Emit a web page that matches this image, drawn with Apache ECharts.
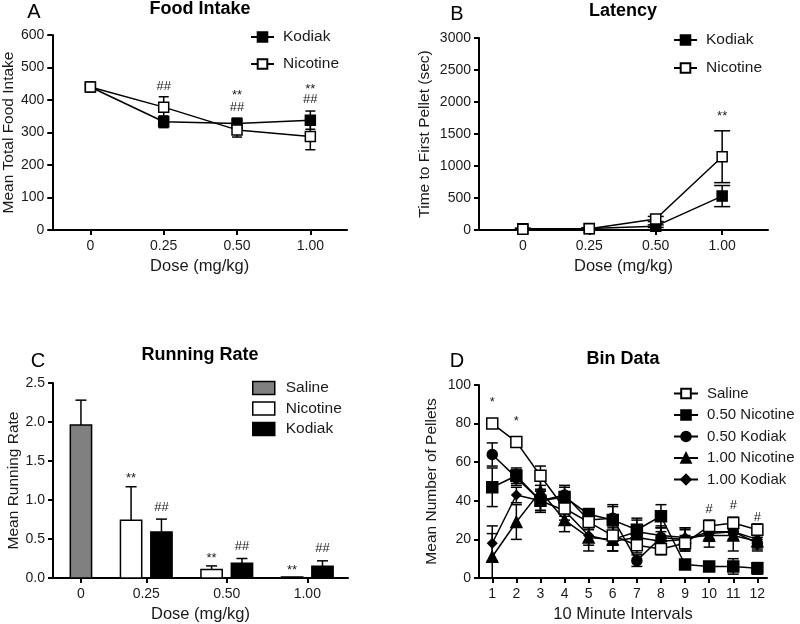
<!DOCTYPE html>
<html>
<head>
<meta charset="utf-8">
<script src="https://cdn.jsdelivr.net/npm/echarts@6/dist/echarts.min.js"></script>
<style>
  html, body { margin: 0; padding: 0; background: #fff; }
  #main { width: 800px; height: 624px; }
</style>
</head>
<body>
<div id="main"></div>
<script>
// ---- data ----
const doseLabels = ['0', '0.25', '0.50', '1.00']

// A: food intake
const foodKodiak = [440, 333, 328, 338]
const foodKodiakErr = [10, 18, 16, 28]
const foodNicotine = [440, 378, 308, 288]
const foodNicotineErr = [12, 32, 22, 41]
const annotA = [[1, 443, '##'], [2, 413, '**'], [2, 377, '##'], [3, 433, '**'], [3, 402, '##']]

// B: latency
const latKodiak = [20, 25, 60, 530]
const latKodiakErr = [10, 10, 20, 165]
const latNicotine = [10, 20, 172, 1145]
const latNicotineErr = [5, 10, 40, 405]
const annotB = [[3, 1780, '**']]

// C: running rate
const runSaline = [1.96, null, null, null]
const runSalineErr = [0.32, null, null, null]
const runNicotine = [null, 0.74, 0.11, 0.013]
const runNicotineErr = [null, 0.43, 0.045, 0]
const runKodiak = [null, 0.59, 0.19, 0.15]
const runKodiakErr = [null, 0.165, 0.06, 0.07]
const annotC = [['Nicotine', 1, 1.28, '**'], ['Kodiak', 1, 0.9, '##'], ['Nicotine', 2, 0.25, '**'],
  ['Kodiak', 2, 0.4, '##'], ['Nicotine', 3, 0.1, '**'], ['Kodiak', 3, 0.38, '##']]

// D: bin data
const intervals = ['1', '2', '3', '4', '5', '6', '7', '8', '9', '10', '11', '12']
const binSaline = [80, 70.5, 53, 36, 29, 22, 17, 15, 18, 27, 28.5, 25]
const binSalineErr = [2, 1, 5, 4, 4, 5, 4, 3, 4, 3, 3, 3]
const binNic50 = [47, 53, 40, 42, 33, 30, 25, 32, 7, 6, 6, 5]
const binNic50Err = [10, 4, 5, 5, 3, 7, 6, 6, 2, 2, 4, 3]
const binKod50 = [64, 52, 40, 43, 30, 31, 9, 21, 20, 24, 24, 18]
const binKod50Err = [6, 4, 5, 5, 4, 7, 3, 5, 6, 4, 4, 3]
const binNic100 = [11, 29, 45, 30, 21, 20, 24, 22, 21, 22, 22, 19]
const binNic100Err = [12, 9, 6, 6, 7, 6, 6, 5, 5, 6, 8, 5]
const binKod100 = [18, 43, 40, 35, 22, 19, 21, 19, 20, 23, 24, 20]
const binKod100Err = [9, 4, 6, 5, 5, 5, 5, 5, 5, 4, 4, 4]
const annotD = [[1, 90.8, '*'], [2, 81, '*'], [10, 35.7, '#'], [11, 37.4, '#'], [12, 31.4, '#']]

// ---- helpers ----
const FONT = '"Liberation Sans", Arial, Helvetica, sans-serif'
const INK = '#1a1a1a'

function pts(xs, ys, es) {
  return ys.map((y, i) => [xs[i], y, es ? es[i] : 0]).filter(p => p[1] != null)
}

function xAxisOf(grid, min, max, ticks, labels, name, gap) {
  return {
    type: 'value', gridIndex: grid, min: min, max: max,
    axisLine: { onZero: false, lineStyle: { color: '#000', width: 2 } },
    splitLine: { show: false },
    axisTick: { customValues: ticks, length: 5, lineStyle: { color: '#000', width: 2 } },
    axisLabel: {
      customValues: ticks, margin: 9, fontSize: 14, color: INK, fontFamily: FONT,
      formatter: v => labels[ticks.findIndex(t => Math.abs(t - v) < 1e-6)]
    },
    name: name, nameLocation: 'middle', nameGap: gap,
    nameTextStyle: { fontSize: 16.5, color: INK, fontFamily: FONT }
  }
}

function yAxisOf(grid, max, interval, name, gap, fmt) {
  return {
    type: 'value', gridIndex: grid, min: 0, max: max, interval: interval,
    axisLine: { show: true, onZero: false, lineStyle: { color: '#000', width: 2 } },
    splitLine: { show: false },
    axisTick: { show: true, length: 5, lineStyle: { color: '#000', width: 2 } },
    axisLabel: { margin: 8, fontSize: 14, color: INK, fontFamily: FONT, formatter: fmt || (v => String(v)) },
    name: name, nameLocation: 'middle', nameGap: gap,
    nameTextStyle: { fontSize: 15.5, color: INK, fontFamily: FONT }
  }
}

function errorBars(ax, data, cap) {
  return {
    type: 'custom', xAxisIndex: ax, yAxisIndex: ax, z: 1, silent: true, data: data,
    renderItem(params, api) {
      const x = api.value(0), y = api.value(1), e = api.value(2)
      if (!e) return
      const top = api.coord([x, y + e])
      const bot = api.coord([x, Math.max(0, y - e)])
      const st = { stroke: '#000', lineWidth: 1.5 }
      return {
        type: 'group', children: [
          { type: 'line', shape: { x1: top[0], y1: top[1], x2: bot[0], y2: bot[1] }, style: st },
          { type: 'line', shape: { x1: top[0] - cap / 2, y1: top[1], x2: top[0] + cap / 2, y2: top[1] }, style: st },
          { type: 'line', shape: { x1: bot[0] - cap / 2, y1: bot[1], x2: bot[0] + cap / 2, y2: bot[1] }, style: st }
        ]
      }
    }
  }
}

function lineOf(ax, name, data, symbol, size, fill, z) {
  return {
    type: 'line', name: name, xAxisIndex: ax, yAxisIndex: ax, data: data.map(p => [p[0], p[1]]),
    symbol: symbol, symbolSize: size, showSymbol: true, z: z || 2,
    lineStyle: { color: '#000', width: 1.5 },
    itemStyle: { color: fill, borderColor: '#000', borderWidth: 1.5 },
    emphasis: { disabled: true }
  }
}

function marks(ax, items) {
  return {
    type: 'custom', xAxisIndex: ax, yAxisIndex: ax, z: 5, silent: true,
    data: items.map(a => [a[0], a[1]]),
    renderItem(params, api) {
      const p = api.coord([api.value(0), api.value(1)])
      return {
        type: 'text', x: p[0], y: p[1],
        style: {
          text: items[params.dataIndex][2], fontSize: 13, fontFamily: FONT, fill: INK,
          align: 'center', verticalAlign: 'middle', textAlign: 'center', textVerticalAlign: 'middle'
        }
      }
    }
  }
}

// panel C layout: bars one step apart inside a dose group, wider step between groups
const barStep = 1, groupStep = 1.65, barW = 0.7
const runSets = [['Saline', runSaline, runSalineErr], ['Nicotine', runNicotine, runNicotineErr], ['Kodiak', runKodiak, runKodiakErr]]
const barPos = { Saline: [], Nicotine: [], Kodiak: [] }
const groupCenter = []
let cursor = 0
let lastBar = 0
doseLabels.forEach((d, g) => {
  const xs = []
  runSets.forEach(s => {
    if (s[1][g] != null) { barPos[s[0]][g] = cursor; xs.push(cursor); lastBar = cursor; cursor += barStep }
  })
  groupCenter.push((xs[0] + xs[xs.length - 1]) / 2)
  cursor += groupStep - barStep
})

function barsOf(name, vals, errs, fill) {
  const data = vals.map((v, g) => [barPos[name][g], v, errs[g] || 0]).filter(p => p[1] != null)
  return {
    type: 'custom', name: 'C:' + name, xAxisIndex: 2, yAxisIndex: 2, z: 2,
    itemStyle: { color: fill, borderColor: '#000', borderWidth: 1.5 },
    data: data,
    renderItem(params, api) {
      const x = api.value(0), y = api.value(1), e = api.value(2)
      const w = api.size([barW, 0])[0]
      const p0 = api.coord([x, 0]), p1 = api.coord([x, y])
      const st = { stroke: '#000', lineWidth: 1.5 }
      const kids = [{ type: 'rect', shape: { x: p0[0] - w / 2, y: p1[1], width: w, height: p0[1] - p1[1] }, style: { fill: fill, stroke: '#000', lineWidth: 1.5 } }]
      if (e > 0) {
        const pt = api.coord([x, y + e])
        kids.push({ type: 'line', shape: { x1: p1[0], y1: p1[1], x2: pt[0], y2: pt[1] }, style: st })
        kids.push({ type: 'line', shape: { x1: pt[0] - 5.5, y1: pt[1], x2: pt[0] + 5.5, y2: pt[1] }, style: st })
      }
      return { type: 'group', children: kids }
    }
  }
}

const idx4 = [0, 1, 2, 3]
const idx12 = intervals.map(Number)
const strip = n => n.split(':')[1]

function legendOf(left, top, gap, names, fontSize, w, h, pad) {
  return {
    orient: 'vertical', left: left, top: top, itemGap: gap, itemWidth: w, itemHeight: h,
    padding: 0, selectedMode: false, data: names, formatter: strip,
    textStyle: { fontSize: fontSize, color: INK, fontFamily: FONT, padding: [0, 0, 0, pad] }
  }
}

function label(text, x, y, size, bold) {
  return {
    type: 'text', x: x, y: y, silent: true,
    style: {
      text: text, fontSize: size, fontWeight: bold ? 'bold' : 'normal', fontFamily: FONT, fill: '#000',
      align: 'center', verticalAlign: 'middle', textAlign: 'center', textVerticalAlign: 'middle'
    }
  }
}

const cMin = -0.92, cMax = lastBar + 0.84

const option = {
  animation: false,
  grid: [
    { left: 52, top: 35, width: 295, height: 195 },
    { left: 479, top: 38, width: 289, height: 192 },
    { left: 53, top: 383, width: 295, height: 195 },
    { left: 479, top: 385, width: 288, height: 194 }
  ],
  xAxis: [
    xAxisOf(0, -0.52, 3.5, idx4, doseLabels, 'Dose (mg/kg)', 28),
    xAxisOf(1, -0.66, 3.69, idx4, doseLabels, 'Dose (mg/kg)', 28),
    xAxisOf(2, cMin, cMax, groupCenter, doseLabels, 'Dose (mg/kg)', 28),
    xAxisOf(3, 0.45, 12.4, idx12, intervals, '10 Minute Intervals', 28)
  ],
  yAxis: [
    yAxisOf(0, 600, 100, 'Mean Total Food Intake', 35),
    yAxisOf(1, 3000, 500, 'Time to First Pellet (sec)', 46),
    yAxisOf(2, 2.5, 0.5, 'Mean Running Rate', 31, v => v.toFixed(1)),
    yAxisOf(3, 100, 20, 'Mean Number of Pellets', 39)
  ],
  legend: [
    legendOf(250, 29, 11, ['A:Kodiak', 'A:Nicotine'], 15.5, 23, 12, 4),
    legendOf(673, 32, 12, ['B:Kodiak', 'B:Nicotine'], 15.5, 23, 12, 4),
    legendOf(252, 380, 4.5, [
      { name: 'C:Saline', icon: 'rect', itemStyle: { color: '#808080', borderColor: '#000', borderWidth: 1.5 } },
      { name: 'C:Nicotine', icon: 'rect', itemStyle: { color: '#fff', borderColor: '#000', borderWidth: 1.5 } },
      { name: 'C:Kodiak', icon: 'rect', itemStyle: { color: '#000', borderColor: '#000', borderWidth: 1.5 } }
    ], 15.5, 22, 13, 6),
    legendOf(673, 386, 6.5, ['D:Saline', 'D:0.50 Nicotine', 'D:0.50 Kodiak', 'D:1.00 Nicotine', 'D:1.00 Kodiak'], 15, 24, 12, 4)
  ],
  graphic: [
    label('A', 34, 12, 20), label('Food Intake', 200, 9, 18, true),
    label('B', 457, 14, 20), label('Latency', 623, 11, 18, true),
    label('C', 38, 361, 20), label('Running Rate', 200, 355, 18, true),
    label('D', 457, 361, 20), label('Bin Data', 623, 359, 18, true)
  ],
  series: [
    // A
    errorBars(0, pts(idx4, foodKodiak, foodKodiakErr), 10),
    errorBars(0, pts(idx4, foodNicotine, foodNicotineErr), 10),
    lineOf(0, 'A:Kodiak', pts(idx4, foodKodiak), 'rect', 10, '#000'),
    lineOf(0, 'A:Nicotine', pts(idx4, foodNicotine), 'rect', 10, '#fff', 3),
    marks(0, annotA),
    // B
    errorBars(1, pts(idx4, latKodiak, latKodiakErr), 16),
    errorBars(1, pts(idx4, latNicotine, latNicotineErr), 16),
    lineOf(1, 'B:Kodiak', pts(idx4, latKodiak), 'rect', 10, '#000'),
    lineOf(1, 'B:Nicotine', pts(idx4, latNicotine), 'rect', 10, '#fff', 3),
    marks(1, annotB),
    // C
    barsOf('Saline', runSaline, runSalineErr, '#808080'),
    barsOf('Nicotine', runNicotine, runNicotineErr, '#fff'),
    barsOf('Kodiak', runKodiak, runKodiakErr, '#000'),
    marks(2, annotC.map(a => [barPos[a[0]][a[1]], a[2], a[3]])),
    // D
    errorBars(3, pts(idx12, binNic50, binNic50Err), 11),
    errorBars(3, pts(idx12, binKod50, binKod50Err), 11),
    errorBars(3, pts(idx12, binNic100, binNic100Err), 11),
    errorBars(3, pts(idx12, binKod100, binKod100Err), 11),
    errorBars(3, pts(idx12, binSaline, binSalineErr), 11),
    lineOf(3, 'D:0.50 Nicotine', pts(idx12, binNic50), 'rect', 11, '#000'),
    lineOf(3, 'D:0.50 Kodiak', pts(idx12, binKod50), 'circle', 10, '#000'),
    lineOf(3, 'D:1.00 Nicotine', pts(idx12, binNic100), 'triangle', 11, '#000'),
    lineOf(3, 'D:1.00 Kodiak', pts(idx12, binKod100), 'diamond', 9, '#000'),
    lineOf(3, 'D:Saline', pts(idx12, binSaline), 'rect', 11, '#fff', 3),
    marks(3, annotD)
  ]
}

const chart = echarts.init(document.getElementById('main'))
chart.setOption(option)
</script>
</body>
</html>
